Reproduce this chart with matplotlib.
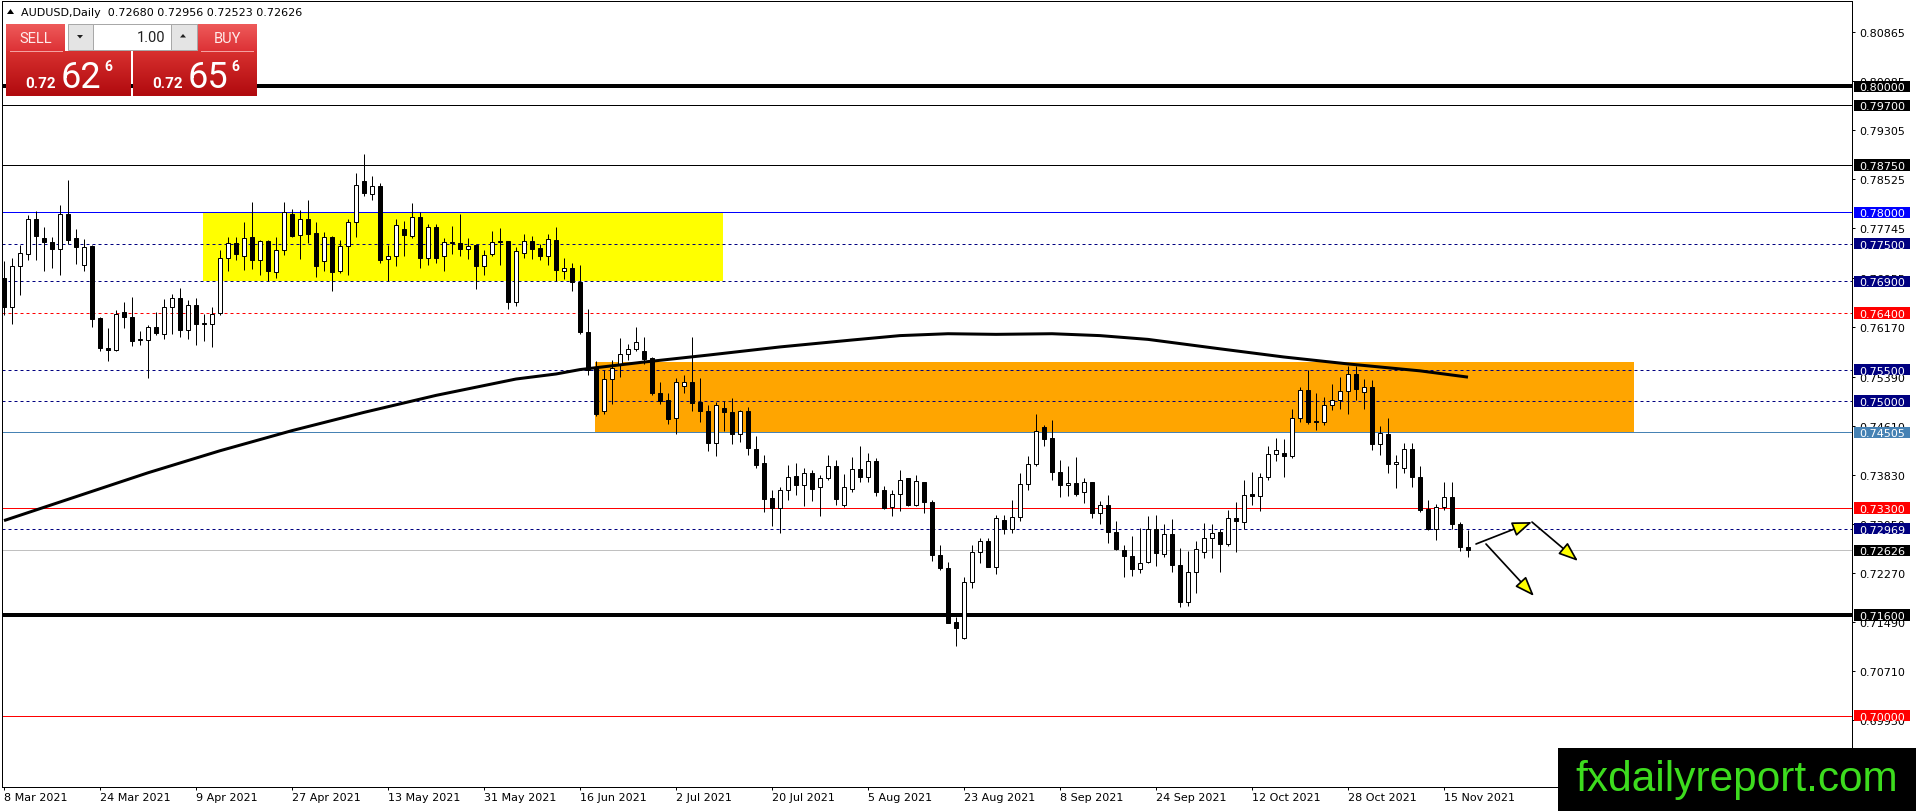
import matplotlib
matplotlib.use('Agg')
import matplotlib.pyplot as plt
import numpy as np
import pandas as pd
from matplotlib.patches import Rectangle, Polygon, FancyArrowPatch
from matplotlib.colors import LinearSegmentedColormap
import matplotlib.transforms as mtrans

# ---------------- data ----------------
symbol_title = "AUDUSD,Daily  0.72680 0.72956 0.72523 0.72626"

opens = [0.7695,0.7650,0.7714,0.7734,0.7789,0.7759,0.7753,0.7742,0.7797,0.7759,
         0.7716,0.7747,0.7632,0.7585,0.7581,0.7641,0.7634,0.7597,0.7597,0.7617,
         0.7607,0.7649,0.7663,0.7613,0.7652,0.7623,0.7623,0.7640,0.7728,0.7751,
         0.7731,0.7760,0.7724,0.7755,0.7705,0.7740,0.7798,0.7764,0.7790,0.7767,
         0.7723,0.7761,0.7706,0.7747,0.7784,0.7849,0.7829,0.7841,0.7726,0.7730,
         0.7773,0.7762,0.7792,0.7728,0.7776,0.7730,0.7751,0.7751,0.7742,0.7748,
         0.7714,0.7734,0.7753,0.7754,0.7657,0.7736,0.7755,0.7743,0.7731,0.7756,
         0.7706,0.7712,0.7689,0.7610,0.7552,0.7484,0.7535,0.7557,0.7574,0.7582,
         0.7580,0.7569,0.7513,0.7502,0.7473,0.7524,0.7530,0.7498,0.7484,0.7433,
         0.7489,0.7483,0.7448,0.7484,0.7424,0.7402,0.7346,0.7330,0.7358,0.7381,
         0.7366,0.7385,0.7363,0.7378,0.7397,0.7334,0.7361,0.7392,0.7380,0.7405,
         0.7359,0.7332,0.7352,0.7377,0.7335,0.7371,0.7340,0.7255,0.7235,0.7149,
         0.7123,0.7212,0.7260,0.7278,0.7237,0.7311,0.7297,0.7316,0.7368,0.7400,
         0.7459,0.7441,0.7387,0.7366,0.7370,0.7355,0.7371,0.7322,0.7335,0.7292,
         0.7264,0.7254,0.7233,0.7244,0.7297,0.7257,0.7289,0.7240,0.7180,0.7228,
         0.7260,0.7283,0.7292,0.7273,0.7314,0.7308,0.7353,0.7349,0.7379,0.7416,
         0.7417,0.7412,0.7473,0.7518,0.7469,0.7466,0.7493,0.7501,0.7516,0.7543,
         0.7514,0.7522,0.7432,0.7448,0.7400,0.7394,0.7424,0.7379,0.7329,0.7297,
         0.7332,0.7347,0.7305,0.72680]
highs = [0.7723,0.7727,0.7748,0.7795,0.7802,0.7776,0.7760,0.7812,0.7851,0.7773,
         0.7758,0.7748,0.7633,0.7616,0.7645,0.7657,0.7665,0.7611,0.7621,0.7641,
         0.7662,0.7670,0.7679,0.7661,0.7663,0.7638,0.7650,0.7740,0.7761,0.7760,
         0.7785,0.7817,0.7756,0.7756,0.7761,0.7816,0.7806,0.7804,0.7819,0.7785,
         0.7768,0.7763,0.7756,0.7789,0.7862,0.7892,0.7857,0.7847,0.7748,0.7789,
         0.7786,0.7814,0.7801,0.7781,0.7781,0.7759,0.7778,0.7797,0.7759,0.7749,
         0.7740,0.7771,0.7775,0.7755,0.7745,0.7765,0.7763,0.7749,0.7765,0.7776,
         0.7727,0.7719,0.7717,0.7647,0.7563,0.7549,0.7565,0.7600,0.7591,0.7618,
         0.7602,0.7570,0.7531,0.7512,0.7536,0.7541,0.7602,0.7537,0.7493,0.7498,
         0.7500,0.7505,0.7485,0.7491,0.7444,0.7415,0.7358,0.7364,0.7399,0.7402,
         0.7394,0.7391,0.7383,0.7415,0.7407,0.7384,0.7411,0.7429,0.7417,0.7409,
         0.7365,0.7358,0.7391,0.7378,0.7383,0.7372,0.7343,0.7272,0.7244,0.7157,
         0.7220,0.7272,0.7282,0.7282,0.7319,0.7319,0.7343,0.7386,0.7412,0.7480,
         0.7462,0.7470,0.7407,0.7397,0.7411,0.7378,0.7372,0.7341,0.7350,0.7309,
         0.7272,0.7286,0.7298,0.7317,0.7319,0.7304,0.7313,0.7266,0.7261,0.7277,
         0.7306,0.7304,0.7297,0.7327,0.7340,0.7375,0.7387,0.7386,0.7429,0.7441,
         0.7440,0.7487,0.7523,0.7549,0.7513,0.7506,0.7527,0.7538,0.7556,0.7555,
         0.7535,0.7534,0.7461,0.7473,0.7415,0.7433,0.7433,0.7396,0.7343,0.7336,
         0.7372,0.7371,0.7307,0.72956]
lows = [0.7637,0.7623,0.7669,0.7724,0.7724,0.7707,0.7711,0.7700,0.7750,0.7718,
        0.7706,0.7618,0.7580,0.7564,0.7580,0.7616,0.7587,0.7589,0.7536,0.7605,
        0.7598,0.7606,0.7602,0.7598,0.7589,0.7596,0.7586,0.7636,0.7707,0.7724,
        0.7708,0.7710,0.7700,0.7690,0.7696,0.7732,0.7761,0.7726,0.7751,0.7697,
        0.7707,0.7675,0.7704,0.7701,0.7761,0.7826,0.7820,0.7720,0.7690,0.7715,
        0.7731,0.7759,0.7712,0.7716,0.7720,0.7707,0.7733,0.7730,0.7725,0.7678,
        0.7700,0.7731,0.7716,0.7646,0.7651,0.7728,0.7726,0.7724,0.7717,0.7691,
        0.7694,0.7675,0.7607,0.7541,0.7477,0.7480,0.7495,0.7538,0.7566,0.7580,
        0.7559,0.7510,0.7495,0.7463,0.7447,0.7513,0.7484,0.7467,0.7420,0.7412,
        0.7452,0.7431,0.7435,0.7414,0.7394,0.7323,0.7301,0.7291,0.7343,0.7351,
        0.7333,0.7341,0.7318,0.7375,0.7334,0.7332,0.7356,0.7371,0.7371,0.7349,
        0.7328,0.7317,0.7325,0.7333,0.7333,0.7322,0.7245,0.7232,0.7147,0.7110,
        0.7122,0.7203,0.7243,0.7236,0.7225,0.7288,0.7290,0.7309,0.7358,0.7396,
        0.7428,0.7375,0.7347,0.7349,0.7349,0.7338,0.7314,0.7304,0.7275,0.7264,
        0.7221,0.7222,0.7226,0.7243,0.7238,0.7252,0.7228,0.7172,0.7175,0.7195,
        0.7251,0.7251,0.7228,0.7269,0.7260,0.7296,0.7334,0.7325,0.7374,0.7404,
        0.7380,0.7409,0.7466,0.7464,0.7454,0.7462,0.7485,0.7488,0.7480,0.7501,
        0.7487,0.7422,0.7415,0.7386,0.7362,0.7386,0.7364,0.7323,0.7295,0.7279,
        0.7327,0.7296,0.7261,0.72523]
closes = [0.7650,0.7714,0.7736,0.7789,0.7762,0.7753,0.7742,0.7797,0.7756,0.7745,
          0.7745,0.7631,0.7584,0.7581,0.7638,0.7634,0.7596,0.7598,0.7617,0.7608,
          0.7649,0.7663,0.7613,0.7652,0.7623,0.7624,0.7638,0.7728,0.7751,0.7734,
          0.7759,0.7724,0.7754,0.7707,0.7740,0.7800,0.7763,0.7790,0.7765,0.7715,
          0.7761,0.7705,0.7747,0.7784,0.7844,0.7831,0.7841,0.7724,0.7730,0.7780,
          0.7764,0.7792,0.7728,0.7776,0.7728,0.7752,0.7752,0.7742,0.7747,0.7714,
          0.7732,0.7753,0.7754,0.7657,0.7739,0.7754,0.7742,0.7731,0.7757,0.7708,
          0.7712,0.7689,0.7609,0.7550,0.7479,0.7535,0.7553,0.7574,0.7582,0.7594,
          0.7567,0.7512,0.7500,0.7472,0.7530,0.7530,0.7497,0.7484,0.7433,0.7493,
          0.7483,0.7448,0.7484,0.7425,0.7398,0.7345,0.7330,0.7358,0.7380,0.7366,
          0.7385,0.7361,0.7378,0.7397,0.7345,0.7363,0.7392,0.7380,0.7405,0.7355,
          0.7330,0.7353,0.7375,0.7335,0.7373,0.7339,0.7255,0.7234,0.7148,0.7139,
          0.7212,0.7260,0.7278,0.7237,0.7314,0.7297,0.7316,0.7368,0.7400,0.7453,
          0.7440,0.7387,0.7366,0.7370,0.7352,0.7371,0.7322,0.7335,0.7292,0.7265,
          0.7253,0.7233,0.7243,0.7297,0.7258,0.7289,0.7239,0.7180,0.7228,0.7265,
          0.7283,0.7291,0.7273,0.7314,0.7309,0.7350,0.7349,0.7379,0.7416,0.7422,
          0.7412,0.7473,0.7518,0.7466,0.7466,0.7493,0.7501,0.7516,0.7543,0.7519,
          0.7522,0.7432,0.7450,0.7400,0.7403,0.7424,0.7380,0.7327,0.7297,0.7332,
          0.7347,0.7304,0.7268,0.72626]

# moving average read at sampled bars
ma_bars = [0, 9, 18, 27, 36, 45, 54, 64, 69, 72, 80, 88, 97, 106, 112, 118, 124, 131,
           137, 143, 152, 160, 168, 177, 183]
ma_vals = [0.7310, 0.7348, 0.7386, 0.7421, 0.7453, 0.7482, 0.7509, 0.7535, 0.7543, 0.7550,
           0.7562, 0.7573, 0.7586, 0.7597, 0.7604, 0.7607, 0.7606, 0.7607, 0.7604, 0.7598,
           0.7583, 0.7570, 0.7559, 0.7548, 0.7538]

# horizontal levels
level_prices = [0.80000, 0.79700, 0.78750, 0.78000, 0.77500, 0.76900, 0.76400,
                0.75500, 0.75000, 0.74505, 0.73300, 0.72969, 0.72626, 0.71600, 0.70000]
level_colors = ['black', 'black', 'black', '#0000ff', '#000080', '#000080', '#ff0000',
                '#000080', '#000080', '#4682b4', '#ff0000', '#000080', '#c0c0c0', 'black', '#ff0000']
level_styles = ['-', '-', '-', '-', '--', '--', '--', '--', '--', '-', '-', '--', '-', '-', '-']
level_widths = [4, 1, 1, 1, 1, 1, 1, 1, 1, 1, 1, 1, 1, 4, 1]
label_bg = ['black', 'black', 'black', '#0000ff', '#000080', '#000080', '#ff0000',
            '#000080', '#000080', '#4682b4', '#ff0000', '#000080', 'black', 'black', '#ff0000']

price_ticks = [0.80865, 0.80085, 0.79305, 0.78525, 0.77745, 0.76955, 0.76170, 0.75390,
               0.74610, 0.73830, 0.73050, 0.72270, 0.71490, 0.70710, 0.69930]

# zones (bar from, bar to, price low, price high)
yellow_zone = (24.9, 89.9, 0.7690, 0.7801)
orange_zone = (73.9, 203.75, 0.74505, 0.75625)

dates = pd.bdate_range('2021-03-08', periods=len(opens))
tick_idx = list(range(0, len(opens), 12))
date_labels = [f"{dates[i].day} {dates[i].strftime('%b %Y')}" for i in tick_idx]

# ---------------- figure ----------------
W, H, DPI = 1916, 812, 100
PX = 72.0 / DPI
fig = plt.figure(figsize=(W / DPI, H / DPI), dpi=DPI)
fig.patch.set_facecolor('white')

L_px, R_px, T_px, B_px = 2, 1852, 2, 788
ax = fig.add_axes([L_px / W, 1 - B_px / H, (R_px - L_px) / W, (B_px - T_px) / H])
ax.set_xlim(-0.25, 231)
ax.set_ylim(0.68866, 0.81358)
ax.set_facecolor('white')
for s in ax.spines.values():
    s.set_color('black')
    s.set_linewidth(PX)

# zones
for (x0, x1, p0, p1), col in [(yellow_zone, '#ffff00'), (orange_zone, '#ffa500')]:
    ax.add_patch(Rectangle((x0, p0), x1 - x0, p1 - p0, facecolor=col, edgecolor='none', zorder=0.5))

# levels
for p, c, st, w in zip(level_prices, level_colors, level_styles, level_widths):
    kw = dict(color=c, lw=w * PX, zorder=1)
    if st == '--':
        ax.axhline(p, dashes=(3, 3), **kw)
    else:
        ax.axhline(p, **kw)

# candles
x = np.arange(len(opens))
o = np.array(opens); h = np.array(highs); l = np.array(lows); c = np.array(closes)
ax.vlines(x, l, h, color='black', lw=PX, zorder=2.9)
bull = c >= o
body_lo = np.minimum(o, c)
body_h = np.maximum(np.abs(c - o), 0.00012)
ax.bar(x[bull], body_h[bull], bottom=body_lo[bull], width=0.6, facecolor='white',
       edgecolor='black', linewidth=PX, zorder=3)
ax.bar(x[~bull], body_h[~bull], bottom=body_lo[~bull], width=0.6, facecolor='black',
       edgecolor='black', linewidth=PX, zorder=3)

# moving average
ax.plot(ma_bars, ma_vals, color='black', lw=3 * PX, zorder=4, solid_capstyle='butt',
        solid_joinstyle='round')

# arrows
arrow_kw = dict(arrowstyle='-|>,head_length=1.2,head_width=0.45', mutation_scale=10,
                facecolor='#ffff00', edgecolor='black', lw=1.7 * PX, shrinkA=0, shrinkB=0, zorder=6)
for a, b in [((184.0, 0.72728), (191.0, 0.73077)),
             ((191.0, 0.73077), (196.75, 0.72458)),
             ((185.25, 0.72728), (191.25, 0.71901))]:
    ax.add_patch(FancyArrowPatch(a, b, **arrow_kw))

# axes ticks
ax.yaxis.tick_right()
ax.set_yticks(price_ticks)
ax.set_yticklabels([f"{v:.5f}" for v in price_ticks])
ax.tick_params(axis='y', direction='out', length=3 * PX, width=PX, pad=4 * PX, labelsize=8,
               colors='black')
ax.set_xticks(tick_idx)
ax.set_xticklabels(date_labels)
for lab in ax.get_xticklabels():
    lab.set_horizontalalignment('left')
ax.tick_params(axis='x', direction='out', length=3 * PX, width=PX, pad=2 * PX, labelsize=8,
               colors='black')

# price label boxes on the right axis
bt = mtrans.blended_transform_factory(ax.transAxes, ax.transData)
ax_w = R_px - L_px
bx0 = (1854 - L_px) / ax_w
bx1 = (1910 - L_px) / ax_w
tx = (1859 - L_px) / ax_w
half = 5.6 / 6292
for p, bg in zip(level_prices, label_bg):
    ax.add_patch(Rectangle((bx0, p - half), bx1 - bx0, 2 * half, transform=bt, facecolor=bg,
                           edgecolor='none', clip_on=False, zorder=10))
    ax.text(tx, p, f"{p:.5f}", transform=bt, color='white', fontsize=8, va='center_baseline',
            ha='left', clip_on=False, zorder=11)

# ---------------- overlay (pixel coords) ----------------
ov = fig.add_axes([0, 0, 1, 1], zorder=20)
ov.patch.set_alpha(0)
ov.set_xlim(0, W)
ov.set_ylim(H, 0)
ov.axis('off')


def grad_rect(x0, y0, x1, y1, top, bottom):
    cmap = LinearSegmentedColormap.from_list('g', [top, bottom])
    g = np.linspace(0, 1, 64).reshape(-1, 1)
    ov.imshow(g, extent=[x0, x1, y1, y0], aspect='auto', cmap=cmap, interpolation='bilinear',
              zorder=1)

# title
ov.add_patch(Polygon([(7, 15), (14, 15), (10.5, 10)], closed=True, facecolor='black', edgecolor='none'))
ov.text(21, 12.5, symbol_title, fontsize=8, va='center', ha='left', color='black')

# sell / buy buttons
grad_rect(6, 25, 65, 52, '#ee5a5a', '#dd3236')
grad_rect(197, 25, 257, 52, '#ee5a5a', '#dd3236')
grad_rect(6, 52, 131, 97, '#d8302f', '#b00a0e')
grad_rect(133, 52, 257, 97, '#d8302f', '#b00a0e')
ov.plot([10, 62], [52, 52], color='#f4a0a0', lw=PX, zorder=2)
ov.plot([201, 253], [52, 52], color='#f4a0a0', lw=PX, zorder=2)
ov.text(35.5, 39, "SELL", fontsize=10.5, family='Roboto', color='#ffecec', ha='center', va='center', zorder=3)
ov.text(227, 39, "BUY", fontsize=10.5, family='Roboto', color='#ffecec', ha='center', va='center', zorder=3)

# spinner
ov.add_patch(Rectangle((68, 25), 129, 26, facecolor='#e4e4e4', edgecolor='#a8a8a8', lw=PX, zorder=2))
ov.add_patch(Rectangle((93, 25), 78, 26, facecolor='white', edgecolor='#a8a8a8', lw=PX, zorder=2))
ov.add_patch(Polygon([(77, 36), (83, 36), (80, 39.5)], closed=True, facecolor='#202020', zorder=3))
ov.add_patch(Polygon([(180, 38.5), (186, 38.5), (183, 35)], closed=True, facecolor='#202020', zorder=3))
ov.text(165, 38.5, "1.00", fontsize=10.5, family='Roboto', color='#202020', ha='right', va='center', zorder=3)

# price texts
for x0, big, sup in [(25, "62", "6"), (152, "65", "6")]:
    ov.text(x0, 88, "0.72", fontsize=11, family='Roboto', weight='bold', color='white',
            ha='left', va='baseline', zorder=3)
    ov.text(x0 + 36, 88, big, fontsize=26, family='Roboto', color='white',
            ha='left', va='baseline', zorder=3)
    ov.text(x0 + 79, 71, sup, fontsize=10, family='Roboto', weight='bold', color='white',
            ha='left', va='baseline', zorder=3)

# watermark
ov.add_patch(Rectangle((1558, 749), W - 1558, H - 749, facecolor='black', edgecolor='none', zorder=5))
ov.text(1575, 791, "fxdailyreport.com", fontsize=30.5, family='Liberation Sans', color='#3ddc1e',
        ha='left', va='baseline', zorder=6)

fig.savefig('out.png', dpi=DPI, facecolor='white')
